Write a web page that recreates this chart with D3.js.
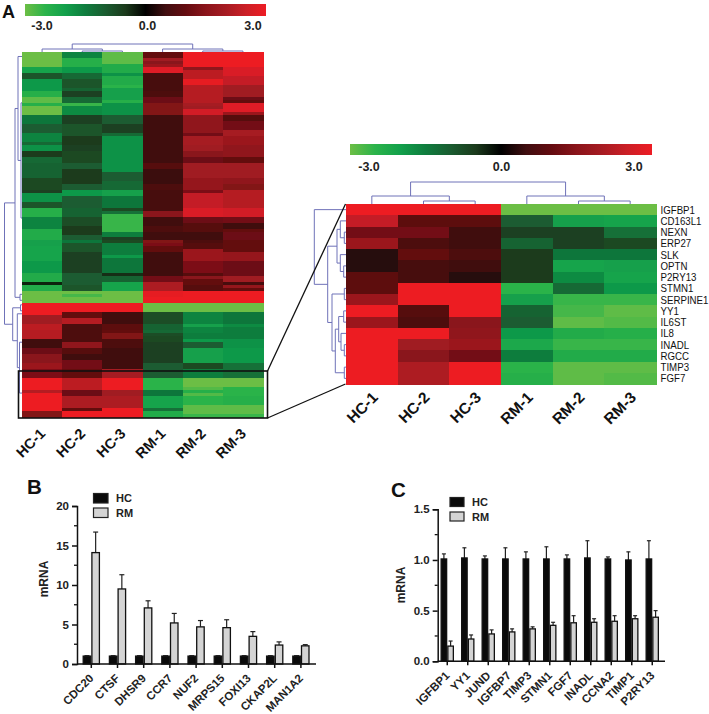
<!DOCTYPE html>
<html><head><meta charset="utf-8">
<script src="https://cdn.jsdelivr.net/npm/d3@7"></script>
<style>
html,body{margin:0;padding:0;background:#fff;overflow:hidden}
svg{display:block}
text{font-family:"Liberation Sans",Arial,sans-serif}
</style></head><body>
<svg id="c" width="709" height="714"></svg>
<script>
// ---------- DATA ----------
const sampleLabels = ["HC-1","HC-2","HC-3","RM-1","RM-2","RM-3"];
const colourTicks = [-3, 0, 3];
const colourStops = [-3,-2.5,-2,-1.5,-1,-0.5,0,0.5,1,1.5,2,2.5,3];
const colourValues = ["#6cbe45","#2bb34a","#12a04b","#0f7d3e","#1a5c30","#1b3a1c","#000000","#400e10","#640b10","#8a141a","#a61b22","#cb1f26","#ed1c24"];

const heatHC1 = [-3,-3,-3,-3,-3,-2.1,-2.1,-.9,-.9,-1.9,
-1.9,-1.9,-1.9,-2.4,-2.4,-2.9,-2.9,-2.4,-3,-3,
-3,-1.4,-1.4,-1.4,-1,-1,-1,-1.6,-1.6,-1.6,
-1.2,-1.8,-1.8,-.5,-.5,-1.2,-1.2,-1.1,-1.1,-1.1,
-1.1,-1.1,-.7,-.7,-.7,-.7,-.6,-1.8,-1.8,-1.8,
-.9,-.9,-2.4,-2.4,-2.4,-1.6,-1.6,-1.6,-1.6,-2.3,
-2.3,-2.3,-2.3,-2,-2,-2.1,-2.1,-2.1,-2.1,-2.1,
-1.9,-1.9,-1.9,-1.9,-2.3,-2.3,-2.3,-.3,-2.3,-2.3,
-3,-3,-3,-3,3,3,3,3,1.9,1.9,
1.9,2.3,2.3,2.2,2.2,2.2,.5,.5,.5,1.1,
1.1,1.5,1.5,1.5,1.8,1.8,1.3,1.3,1.3,3,
3,3,3,2.2,3,3,3,3,3,3,1.4,1.4];
const heatHC2 = [-1.6,-1.6,-2.4,-2.4,-2.4,-1.9,-1.9,-1.2,-1.2,-.9,
-.9,-.9,-1.1,-.6,-.6,-1.2,-1.2,-2.6,-1.7,-1.7,
-1.7,-.6,-.6,-.6,-.9,-.9,-.9,-.9,-.5,-.5,
-.5,-.6,-.6,-.7,-.7,-.7,-.7,-1,-1,-.5,
-.5,-.5,-.5,-.5,-1,-1,-1.9,-1.9,-1,-1,
-1,-1,-1.1,-1.1,-1.1,-.8,-.8,-.8,-.5,-.5,
-.5,-1,-1,-1.4,-.9,-.9,-.9,-.6,-.6,-.6,
-.6,-.6,-.6,-.6,-1,-1,-1,-1,-.9,-.9,
-3,-2.7,-3,-3,3,3,3,1,1,2.2,
2.2,.7,.7,.7,.7,.7,.7,1.6,1.6,.8,
.8,.5,.5,1.2,1.2,1.2,1,1,1,2.3,
2.3,2.3,2.3,1.1,1.1,2.1,2.1,2.1,2.1,1,3,3];
const heatHC3 = [-2.9,-2.9,-2.9,-2.9,-2.3,-2.3,-2.3,-1.8,-2.3,-2.3,
-2.3,-2.5,-2,-2,-2,-2,-2.4,-1.8,-1.8,-1.8,
-1.8,-1,-1,-1,-.6,-.6,-.6,-1.2,-1.8,-1.8,
-1.8,-1.8,-1.8,-1.8,-1.8,-1.8,-1.8,-1.8,-1.8,-1.8,
-1,-1,-1,-1.2,-1.2,-1.2,-2,-2,-1.4,-1.4,
-1.4,-1.4,-.7,-1.3,-2.6,-2.6,-2.6,-2.6,-2.6,-2.6,
-1.5,-1.5,-.6,-.7,-1.5,-1.5,-1.5,-1.5,-1.9,-1.4,
-1.4,-1.4,-1.4,-1.4,-.4,-1.1,-1.1,-2.1,-2.1,-2.1,
-3,-3,-3,-3,3,3,3,.5,.5,.5,
.5,.9,.9,1,1.4,1.4,.7,.7,.7,.5,
.5,.5,.5,.5,.5,.5,2,2,2,3,
3,3,3,1.9,1.9,2.1,2.1,2.1,2.1,3,3,3];
const heatRM1 = [1,1,1.9,1.5,1.8,2.8,2.8,.6,.6,.6,
.6,.6,.6,.7,.7,1.1,1.1,1.4,1.4,1.4,
1.4,.5,.5,.5,.5,.5,.5,.5,.5,.5,
.5,.5,.5,.5,.5,.5,.5,.8,.8,.45,
.45,.45,.45,.45,.7,.7,.6,.6,.6,.6,
.6,.6,.6,1.5,1.5,.5,.5,.5,.7,.7,
.5,.5,.5,1.4,1.3,1,1,.5,.5,.5,
.5,.5,.5,.5,.5,1.2,1.2,2.1,2.1,2.1,
2.9,2.9,3,3,-3,-3,-3,-.8,-.8,-.8,
-.8,-1.1,-1.1,-1.2,-.8,-.7,-.7,-.6,-.6,-.6,
-.6,-.6,-.6,-.6,-1,-1,-1,-1,-1,-2.5,
-2.5,-2.5,-2.5,-1.4,-1.4,-2.1,-2.1,-2.1,-2.1,-1.3,-2.3,-2.3];
const heatRM2 = [3,3,3,3,3,1.6,2.3,2.3,2.3,2.9,
2.9,2.2,2.2,2.2,2.2,2.2,2.2,2,1.9,2.6,
2.6,1.6,1.6,1.6,1.6,1.6,1.6,1.2,2,2,
2,1.9,1.9,1.5,1.5,1.1,1.1,1.9,1.9,1.9,
1.9,1.9,1.7,1.7,1.7,1.7,1.3,2.4,2.4,2.4,
2.4,2.4,2.7,2.7,2.7,1.1,1.1,.8,.8,.8,
.5,.5,.5,.7,.8,.8,1.8,1.8,1.8,1.8,
1.3,1.3,1.3,1.3,.8,1.5,1,1,.8,.8,
3,3,3,3,-3,-3,-3,-1.6,-1.6,-1.6,
-1.6,-2,-1.6,-1.6,-1.5,-1.5,-1.9,-1,-1,-2,
-2,-2,-2,-2,-.7,-.7,-1.5,-1.5,-1.5,-3,
-3,-3,-2.8,-2.4,-2.8,-2.5,-2.5,-2.5,-2.9,-2.9,-2.9,-2.6];
const heatRM3 = [3,3,3,3,3,2.7,2.7,2.7,2.4,2.4,
2.4,1.9,1.9,1.9,1.9,1.1,1,2.8,2.8,2.8,
1.8,.8,.8,1.2,1.2,1.2,2,2,1.8,1.8,
1.8,1.6,1.6,1.6,1.6,1,1,1.9,1.9,1.9,
1.9,1.9,1.6,1.6,1.4,1.4,2.2,2.2,2.2,2.2,
2.2,2.2,2.6,2.6,2.6,1.2,1.2,.5,.5,1,
1.1,1.1,1.1,1,1,1,1,1.7,1.7,1.7,
1.1,1.1,1.1,1.1,1.1,1.9,1.9,.6,1.7,1,
3,3,3,3,-3,-3,-3,-1.4,-1.4,-1.4,
-1.4,-1.7,-1.5,-1.5,-1.5,-1.5,-1.8,-1.8,-1.8,-1.9,
-1.9,-1.9,-1.9,-1.9,-1.3,-1.3,-1.3,-1.3,-1.3,-3,
-3,-3,-2.5,-2.5,-2.5,-2.4,-2.4,-2.4,-2.9,-2.9,-2.9,-2.6];

const geneLabels = ["IGFBP1","CD163L1","NEXN","ERP27","SLK","OPTN","P2RY13","STMN1","SERPINE1","YY1","IL6ST","IL8","INADL","RGCC","TIMP3","FGF7"];
const detailHC1 = [3,2.4,1.2,1.8,.3,.3,.9,.9,1.8,3,1.8,3,3,3,3,3];
const detailHC2 = [3,.9,1.2,.7,1,.6,.6,3,3,.8,.7,3,1.9,1.5,2.1,2.1];
const detailHC3 = [3,.9,.5,.5,.7,.5,.3,3,3,3,1.5,1.6,1.8,1.2,3,3];
const detailRM1 = [-3,-1,-.6,-1.1,-.5,-.5,-.5,-2.5,-2,-1.1,-1,-1.9,-2.2,-1.5,-2.5,-2.4];
const detailRM2 = [-3,-2,-.6,-.6,-1.4,-2.1,-1.7,-1.2,-2.6,-2.7,-2.9,-2.3,-2.6,-2.3,-2.9,-2.9];
const detailRM3 = [-3,-2.1,-1.3,-.7,-1.4,-2,-2.1,-1.9,-2.6,-2.9,-2.8,-2.4,-2.6,-2.3,-2.9,-2.8];

// dendrograms: nested merges, [height, childA, childB]; a leaf is a sample/row index or a {r:[first,last]} run of rows
const colTreeA = [8,[3,0,[1,1,2]],[3,3,[1,4,5]]];
const colTreeD = [22,[8,0,[3,1,2]],[8,3,[3,4,5]]];
const rowTreeA = [17.5,
  [7,[4,{r:[0,2]},[1,{r:[3,30]},{r:[31,79]}]],[2,{r:[80,81]},{r:[82,83]}]],
  [9.3,[1.5,84,86],[4.7,87,[2.5,{r:[88,105]},{r:[106,121]}]]]];
const rowTreeD = [31.7,0,[18.3,
  [9,[5.7,1,[1.7,2,3]],[5.7,4,[2.3,5,6]]],
  [14,[1.7,7,8],[10.7,[7.3,[2.3,9,10],[5,11,[1.7,12,13]]],[1.7,14,15]]]]];

const genesB = ["CDC20","CTSF","DHSR9","CCR7","NUF2","MRPS15","FOXI13","CKAP2L","MAN1A2"];
const hcB = [1,1,1,1,1,1,1,1,1];
const hcBTop = [1.05,1.05,1.05,1.05,1.05,1.05,1.05,1.05,1.05];
const rmB = [14.1,9.5,7.1,5.2,4.7,4.6,3.5,2.4,2.3];
const rmBTop = [16.7,11.3,8.0,6.4,5.5,5.6,4.1,2.8,2.45];
const ticksB = [0,5,10,15,20];
const minorB = [2.5,7.5,12.5,17.5];

const genesC = ["IGFBP1","YY1","JUND","IGFBP7","TIMP3","STMN1","FGF7","INADL","CCNA2","TIMP1","P2RY13"];
const hcC = [1.01,1.02,1.01,1.01,1.01,1.01,1.01,1.02,1.01,1.0,1.01];
const hcCTop = [1.06,1.12,1.04,1.12,1.08,1.13,1.05,1.19,1.03,1.08,1.19];
const rmC = [.15,.22,.27,.29,.32,.355,.38,.385,.395,.42,.435];
const rmCTop = [.20,.26,.31,.32,.34,.385,.45,.42,.45,.45,.50];
const ticksC = [0,.5,1,1.5];
const minorC = [.25,.75,1.25];
const seriesNames = ["HC","RM"];

// ---------- DRAW ----------
const svg = d3.select("#c");
const color = d3.scaleLinear().domain(colourStops).range(colourValues).clamp(true);
const DENDRO = "#6f72b8";
const defs = svg.append("defs");
const soft = defs.append("filter").attr("id","soft").attr("x","-2%").attr("y","-2%").attr("width","104%").attr("height","104%");
soft.append("feGaussianBlur").attr("stdDeviation",0.55);

function colourBar(id, x0, x1, y0, y1, labelX, labelY){
  const t = d3.scaleLinear().domain([-3,3]).range([0,100]);
  const g = defs.append("linearGradient").attr("id", id);
  g.selectAll("stop").data(colourStops).join("stop")
    .attr("offset", d => t(d)+"%").attr("stop-color", d => color(d));
  svg.append("rect").attr("x",x0).attr("y",y0).attr("width",x1-x0).attr("height",y1-y0).attr("fill",`url(#${id})`);
  const lx = d3.scaleLinear().domain([-3,3]).range(labelX);
  svg.append("g").selectAll("text").data(colourTicks).join("text")
    .attr("x", d => lx(d)).attr("y", labelY).attr("text-anchor","middle")
    .attr("font-size",12.5).attr("font-weight","bold").attr("fill","#222")
    .text(d => d.toFixed(1));
}

function heat(columns, x0, x1, y0, y1){
  const nRows = columns[0].length;
  const x = d3.scaleBand().domain(d3.range(6)).range([x0,x1]);
  const y = d3.scaleBand().domain(d3.range(nRows)).range([y0,y1]);
  const g = svg.append("g").attr("filter","url(#soft)").append("g").attr("shape-rendering","crispEdges");
  columns.forEach((col,c) => {
    g.append("g").selectAll("rect").data(col).join("rect")
      .attr("x", x(c)).attr("width", x.bandwidth()+0.5)
      .attr("y", (d,i) => y(i)).attr("height", y.bandwidth()+0.5)
      .attr("fill", d => color(d));
  });
  return {x,y};
}

function walk(node, leafPos, emit){
  if (typeof node === "number") return {p:leafPos(node), h:0};
  if (node.r) return {p:(leafPos(node.r[0])+leafPos(node.r[1]))/2, h:0};
  const a = walk(node[1], leafPos, emit), b = walk(node[2], leafPos, emit);
  emit(node[0], a, b);
  return {p:(a.p+b.p)/2, h:node[0]};
}
function colDendro(tree, xs, base){
  const p = d3.path();
  walk(tree, i => xs(i)+xs.bandwidth()/2, (h,a,b) => {
    p.moveTo(a.p, base-a.h); p.lineTo(a.p, base-h); p.lineTo(b.p, base-h); p.lineTo(b.p, base-b.h);
  });
  svg.append("path").attr("d",p.toString()).attr("fill","none").attr("stroke",DENDRO).attr("stroke-width",1);
}
function rowDendro(tree, ys, base){
  const p = d3.path();
  walk(tree, i => ys(i)+ys.bandwidth()/2, (h,a,b) => {
    p.moveTo(base-a.h, a.p); p.lineTo(base-h, a.p); p.lineTo(base-h, b.p); p.lineTo(base-b.h, b.p);
  });
  svg.append("path").attr("d",p.toString()).attr("fill","none").attr("stroke",DENDRO).attr("stroke-width",1);
}
function sampleText(xs, yPos, offset, size){
  svg.append("g").selectAll("text").data(sampleLabels).join("text")
    .attr("text-anchor","end").attr("font-size",size).attr("font-weight","bold").attr("fill","#111")
    .attr("transform",(d,i)=>`translate(${xs(i)+xs.bandwidth()/2+offset},${yPos}) rotate(-45)`)
    .text(d=>d);
}
function panelLetter(t,x,y,size){
  svg.append("text").attr("x",x).attr("y",y).attr("font-size",size).attr("font-weight","bold").attr("fill","#111").text(t);
}

// Panel A
panelLetter("A",2,17.5,18);
colourBar("gradA",25,266,4,16,[42,253],30);
const A = heat([heatHC1,heatHC2,heatHC3,heatRM1,heatRM2,heatRM3],22,263,52,417);
colDendro(colTreeA,A.x,52);
rowDendro(rowTreeA,A.y,22);
sampleText(A.x,434.5,4,14.5);

// Detail panel
colourBar("gradD",350,652,144,155,[369,634],171);
const D = heat([detailHC1,detailHC2,detailHC3,detailRM1,detailRM2,detailRM3],346,656,204,384);
colDendro(colTreeD,D.x,204);
rowDendro(rowTreeD,D.y,346);
svg.append("g").selectAll("text").data(geneLabels).join("text")
  .attr("transform",(d,i)=>`translate(660.5,${D.y(i)+D.y.bandwidth()/2+3.9}) scale(1,1.1)`)
  .attr("font-size",9.7).attr("fill","#111").text(d=>d);
sampleText(D.x,398.5,7,15.5);

// Zoom box and connectors
svg.append("rect").attr("x",18.5).attr("y",371).attr("width",249).attr("height",47)
  .attr("fill","none").attr("stroke","#111").attr("stroke-width",1.6);
const linkLine = d3.line();
svg.append("path").attr("d",linkLine([[267.5,371],[345.5,204]])).attr("fill","none").attr("stroke","#111").attr("stroke-width",1.3);
svg.append("path").attr("d",linkLine([[267.5,418],[345.5,384]])).attr("fill","none").attr("stroke","#111").attr("stroke-width",1.3);

function bars(o){
  const g = svg.append("g");
  const x = d3.scaleBand().domain(o.genes).range(o.xRange).paddingInner(o.pad).paddingOuter(o.pad/2);
  const y = d3.scaleLinear().domain(o.yDomain).range(o.yRange);
  const inner = d3.scaleBand().domain(seriesNames).range([0,x.bandwidth()]);
  [[o.hc,o.hcTop,"HC","#0a0a0a"],[o.rm,o.rmTop,"RM","#d4d4d4"]].forEach(([vals,tops,name,fill]) => {
    const s = g.append("g");
    const cx = i => x(o.genes[i])+inner(name)+inner.bandwidth()/2;
    s.selectAll("line.stem").data(vals).join("line").attr("class","stem")
      .attr("x1",(d,i)=>cx(i)).attr("x2",(d,i)=>cx(i)).attr("y1",d=>y(d)).attr("y2",(d,i)=>y(tops[i]))
      .attr("stroke","#222").attr("stroke-width",1.2);
    s.selectAll("line.cap").data(tops).join("line").attr("class","cap")
      .attr("x1",(d,i)=>cx(i)-o.cap).attr("x2",(d,i)=>cx(i)+o.cap).attr("y1",d=>y(d)).attr("y2",d=>y(d))
      .attr("stroke","#222").attr("stroke-width",1.2);
    s.selectAll("rect").data(vals).join("rect")
      .attr("x",(d,i)=>x(o.genes[i])+inner(name)+0.6).attr("width",inner.bandwidth()-1.2)
      .attr("y",d=>y(d)).attr("height",d=>y(0)-y(d))
      .attr("fill",fill).attr("stroke","#111").attr("stroke-width",1.3);
  });
  const ax = d3.axisLeft(y).tickValues(o.ticks).tickSize(5).tickPadding(3).tickFormat(o.fmt);
  const yg = g.append("g").attr("transform",`translate(${o.axisX},0)`).call(ax);
  yg.select(".domain").attr("stroke","#111").attr("stroke-width",1.5);
  yg.selectAll(".tick line").attr("stroke","#111").attr("stroke-width",1.5);
  yg.selectAll("text").attr("font-size",11.5).attr("font-weight","bold").attr("fill","#222")
    .attr("font-family",'"Liberation Sans",Arial,sans-serif');
  yg.selectAll("line.minor").data(o.minor).join("line").attr("class","minor")
    .attr("x1",-3).attr("x2",0).attr("y1",d=>y(d)).attr("y2",d=>y(d)).attr("stroke","#111").attr("stroke-width",1.3);
  const xa = d3.axisBottom(x).tickSize(4).tickPadding(3);
  const xg = g.append("g").attr("transform",`translate(0,${o.yRange[0]})`).call(xa);
  xg.select(".domain").attr("d",`M${o.axisX},0H${o.axisEnd}`).attr("stroke","#111").attr("stroke-width",1.5);
  xg.selectAll(".tick line").attr("stroke","#111").attr("stroke-width",1.5);
  xg.selectAll("text").attr("font-size",o.labelSize).attr("font-weight","bold").attr("fill","#222")
    .attr("font-family",'"Liberation Sans",Arial,sans-serif')
    .attr("text-anchor","end").attr("dy",0)
    .attr("transform",`translate(3,${o.labelDy}) rotate(-45)`).attr("y",0).attr("x",0);
  svg.append("text").attr("text-anchor","middle").attr("font-size",12).attr("font-weight","bold").attr("fill","#222")
    .attr("transform",`translate(${o.titleX},${o.titleY}) rotate(-90)`).text("mRNA");
  const leg = svg.append("g");
  seriesNames.forEach((n,i) => {
    leg.append("rect").attr("x",o.legX).attr("y",o.legY[i]).attr("width",o.legW).attr("height",o.legH)
      .attr("fill",i?"#d4d4d4":"#0a0a0a").attr("stroke","#222").attr("stroke-width",1.2);
    leg.append("text").attr("x",o.legX+o.legW+8).attr("y",o.legY[i]+o.legH/2+4)
      .attr("font-size",11).attr("font-weight","bold").attr("fill","#222").text(n);
  });
}

panelLetter("B",27,494,20.5);
bars({genes:genesB,hc:hcB,hcTop:hcBTop,rm:rmB,rmTop:rmBTop,xRange:[78.2,314],pad:.336,
  yDomain:[0,20],yRange:[664,506],ticks:ticksB,minor:minorB,fmt:d3.format("d"),axisX:77,axisEnd:316,cap:2.5,
  titleX:47.5,titleY:579,legX:93.5,legY:[493.5,508],legW:14.5,legH:9.5,labelSize:11.5,labelDy:15});

panelLetter("C",391,497,20.5);
bars({genes:genesC,hc:hcC,hcTop:hcCTop,rm:rmC,rmTop:rmCTop,xRange:[437,662.5],pad:.346,
  yDomain:[0,1.5],yRange:[661.3,509.3],ticks:ticksC,minor:minorC,fmt:d3.format(".1f"),axisX:437.7,axisEnd:665,cap:2,
  titleX:405,titleY:585,legX:450,legY:[497.5,512],legW:14,legH:9,labelSize:11.5,labelDy:15});
</script>
</body></html>
